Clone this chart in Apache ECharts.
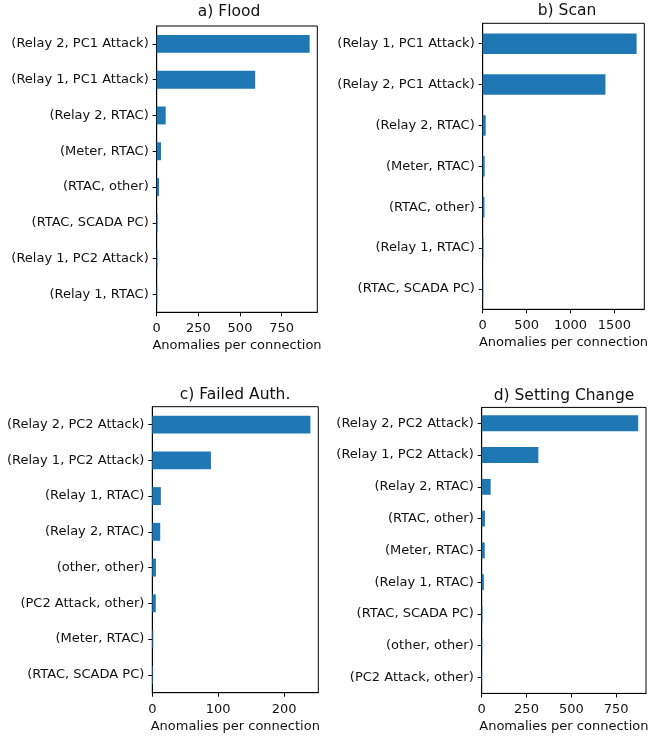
<!DOCTYPE html>
<html>
<head>
<meta charset="utf-8">
<script src="https://cdn.jsdelivr.net/npm/echarts@6/dist/echarts.min.js"></script>
<style>
  html, body { margin: 0; padding: 0; background: #fff; }
  #chart { width: 648px; height: 737px; }
</style>
</head>
<body>
<div id="chart"></div>
<script>
// a) Flood
var floodCats = ['(Relay 2, PC1 Attack)', '(Relay 1, PC1 Attack)', '(Relay 2, RTAC)', '(Meter, RTAC)',
    '(RTAC, other)', '(RTAC, SCADA PC)', '(Relay 1, PC2 Attack)', '(Relay 1, RTAC)'];
var floodVals = [918, 591, 54, 26, 14, 5, 4, 3];
var floodTicks = [0, 250, 500, 750];

// b) Scan
var scanCats = ['(Relay 1, PC1 Attack)', '(Relay 2, PC1 Attack)', '(Relay 2, RTAC)', '(Meter, RTAC)',
    '(RTAC, other)', '(Relay 1, RTAC)', '(RTAC, SCADA PC)'];
var scanVals = [1753, 1398, 34, 22, 20, 8, 6];
var scanTicks = [0, 500, 1000, 1500];

// c) Failed Auth.
var authCats = ['(Relay 2, PC2 Attack)', '(Relay 1, PC2 Attack)', '(Relay 1, RTAC)', '(Relay 2, RTAC)',
    '(other, other)', '(PC2 Attack, other)', '(Meter, RTAC)', '(RTAC, SCADA PC)'];
var authVals = [240, 89, 13, 12, 5.5, 5.3, 1.5, 1.2];
var authTicks = [0, 100, 200];

// d) Setting Change
var settingCats = ['(Relay 2, PC2 Attack)', '(Relay 1, PC2 Attack)', '(Relay 2, RTAC)', '(RTAC, other)',
    '(Meter, RTAC)', '(Relay 1, RTAC)', '(RTAC, SCADA PC)', '(other, other)', '(PC2 Attack, other)'];
var settingVals = [873, 316, 50, 18, 17, 12, 4, 3, 2];
var settingTicks = [0, 250, 500, 750];

var titles = ['a) Flood', 'b) Scan', 'c) Failed Auth.', 'd) Setting Change'];
var xName = 'Anomalies per connection';

var font = 'DejaVu Sans';
var ink = '#111';

var panels = [
    { cats: floodCats, vals: floodVals, ticks: floodTicks, left: 156.7, top: 26, width: 160.6, height: 286.3, tx: 229, ty: 12 },
    { cats: scanCats, vals: scanVals, ticks: scanTicks, left: 482.7, top: 23.3, width: 161.6, height: 286, tx: 567, ty: 11 },
    { cats: authCats, vals: authVals, ticks: authTicks, left: 152.3, top: 406.7, width: 166, height: 286, tx: 235, ty: 395 },
    { cats: settingCats, vals: settingVals, ticks: settingTicks, left: 481.7, top: 407.4, width: 164.3, height: 286, tx: 564, ty: 395.5 }
];

var grid = [], xAxis = [], yAxis = [], series = [], graphic = [];

panels.forEach(function (p, i) {
    grid.push({
        left: p.left, top: p.top, width: p.width, height: p.height,
        outerBoundsMode: 'none',
        show: true, borderColor: '#000', borderWidth: 1
    });
    xAxis.push({
        type: 'value', gridIndex: i, min: 0,
        max: Math.max.apply(null, p.vals) * 1.05,
        name: xName, nameLocation: 'middle', nameGap: 27,
        nameTextStyle: { fontFamily: font, fontSize: 13, color: ink },
        axisLine: { show: true, lineStyle: { color: '#000', width: 1 } },
        axisTick: { show: true, length: 4, lineStyle: { color: '#000' }, customValues: p.ticks },
        axisLabel: {
            fontFamily: font, fontSize: 13, color: ink, margin: 10, customValues: p.ticks,
            formatter: function (v) { return String(v); }
        },
        splitLine: { show: false }
    });
    yAxis.push({
        type: 'category', gridIndex: i, inverse: true, data: p.cats,
        axisLine: { show: true, lineStyle: { color: '#000', width: 1 } },
        axisTick: { show: true, length: 4, alignWithLabel: true, lineStyle: { color: '#000' } },
        axisLabel: { fontFamily: font, fontSize: 13, color: ink, margin: 8, interval: 0 },
        splitLine: { show: false }
    });
    series.push({
        type: 'bar', xAxisIndex: i, yAxisIndex: i, data: p.vals,
        barWidth: '50%', itemStyle: { color: '#1f77b4' }, silent: true
    });
    graphic.push({
        type: 'text', x: p.tx, y: p.ty,
        style: { text: titles[i], font: '15.5px "' + font + '"', fill: ink, textAlign: 'center', textVerticalAlign: 'middle' }
    });
});

var chart = echarts.init(document.getElementById('chart'), null, { renderer: 'canvas' });
chart.setOption({
    animation: false,
    backgroundColor: '#fff',
    grid: grid,
    xAxis: xAxis,
    yAxis: yAxis,
    series: series,
    graphic: graphic
});
</script>
</body>
</html>
